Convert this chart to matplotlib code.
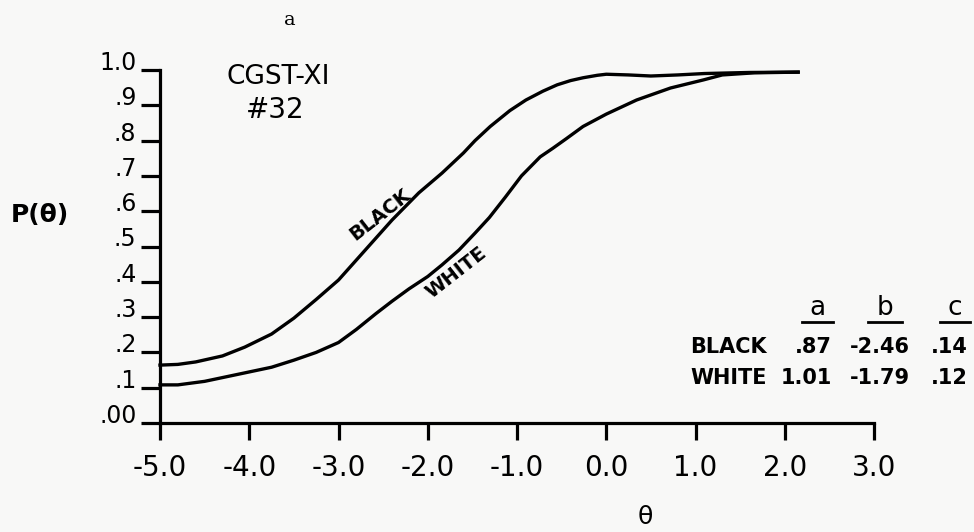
import numpy as np
import matplotlib.pyplot as plt
from matplotlib.lines import Line2D

# item characteristic curves
theta_black = [-5.0, -4.8, -4.6, -4.3, -4.05, -3.75, -3.5, -3.25, -3.0, -2.7,
               -2.4, -2.1, -1.84, -1.6, -1.47, -1.3, -1.08, -0.9, -0.71, -0.55,
               -0.4, -0.26, -0.1, 0.0, 0.25, 0.5, 0.8, 1.1, 1.6, 2.15]
p_black = [0.164, 0.166, 0.173, 0.19, 0.215, 0.252, 0.297, 0.35, 0.405, 0.49,
           0.575, 0.652, 0.708, 0.765, 0.800, 0.840, 0.885, 0.915, 0.940, 0.958,
           0.970, 0.978, 0.985, 0.988, 0.986, 0.983, 0.986, 0.990, 0.993, 0.994]

theta_white = [-5.0, -4.8, -4.5, -4.05, -3.75, -3.5, -3.25, -3.0, -2.8, -2.58,
               -2.4, -2.21, -2.0, -1.84, -1.65, -1.47, -1.31, -1.13, -0.95, -0.74,
               -0.6, -0.45, -0.26, 0.0, 0.34, 0.72, 1.09, 1.3, 1.66, 2.15]
p_white = [0.108, 0.108, 0.118, 0.142, 0.158, 0.178, 0.20, 0.228, 0.265, 0.31,
           0.345, 0.38, 0.415, 0.448, 0.49, 0.538, 0.582, 0.64, 0.70, 0.754,
           0.778, 0.805, 0.840, 0.875, 0.915, 0.949, 0.972, 0.986, 0.992, 0.994]

xticks = [-5, -4, -3, -2, -1, 0, 1, 2, 3]
xticklabels = ["-5.0", "-4.0", "-3.0", "-2.0", "-1.0", "0.0", "1.0", "2.0", "3.0"]
yticks = [0.0, 0.1, 0.2, 0.3, 0.4, 0.5, 0.6, 0.7, 0.8, 0.9, 1.0]
yticklabels = [".00", ".1", ".2", ".3", ".4", ".5", ".6", ".7", ".8", ".9", "1.0"]

# parameter table
groups = ["BLACK", "WHITE"]
param_a = [".87", "1.01"]
param_b = ["-2.46", "-1.79"]
param_c = [".14", ".12"]

W, H = 974, 532
bg = "#f8f8f7"
fig = plt.figure(figsize=(W / 100, H / 100), dpi=100, facecolor=bg)
ax = fig.add_axes([160 / W, 109 / H, 714 / W, 353 / H])
ax.set_facecolor(bg)

ax.plot(theta_black, p_black, color="black", lw=2.4, solid_joinstyle="round", clip_on=False)
ax.plot(theta_white, p_white, color="black", lw=2.4, solid_joinstyle="round", clip_on=False)

ax.set_xlim(-5, 3)
ax.set_ylim(0, 1)
for s in ["top", "right"]:
    ax.spines[s].set_visible(False)
for s in ["left", "bottom"]:
    ax.spines[s].set_linewidth(2.3)

ax.set_xticks(xticks)
ax.set_xticklabels(xticklabels)
ax.set_yticks(yticks)
ax.set_yticklabels(yticklabels)
ax.tick_params(axis="x", direction="out", length=12, width=2.3, pad=10, labelsize=20)
ax.tick_params(axis="y", direction="out", length=14, width=2.3, pad=3, labelsize=17)
for lbl in ax.get_yticklabels():
    lbl.set_verticalalignment("baseline")

def fx(px):
    return px / W

def fy(py):
    return 1 - py / H

fig.text(fx(290), fy(20), "a", fontsize=14, family="DejaVu Serif", ha="center", va="center")
fig.text(fx(226), fy(77), "CGST-XI", fontsize=19, ha="left", va="center")
fig.text(fx(275), fy(110), "#32", fontsize=20, ha="center", va="center")
fig.text(fx(40), fy(215), "P(θ)", fontsize=18, weight="bold", ha="center", va="center")
fig.text(fx(645), fy(517), "θ", fontsize=18, ha="center", va="center")

fig.text(fx(380), fy(215), "BLACK", fontsize=14, weight="bold", rotation=38,
         ha="center", va="center", rotation_mode="anchor")
fig.text(fx(456), fy(273), "WHITE", fontsize=14, weight="bold", rotation=38,
         ha="center", va="center", rotation_mode="anchor")

# table
for hx, h, (u0, u1) in zip([817, 885, 955], ["a", "b", "c"],
                           [(802, 833), (868, 902), (940, 970)]):
    fig.text(fx(hx), fy(315), h, fontsize=19, ha="center", va="baseline")
    fig.add_artist(Line2D([fx(u0), fx(u1)], [fy(322), fy(322)], color="black", lw=2))

for i, g in enumerate(groups):
    y = fy(347 + 31 * i)
    fig.text(fx(690), y, g, fontsize=15, weight="bold", ha="left", va="center")
    fig.text(fx(832), y, param_a[i], fontsize=15, weight="bold", ha="right", va="center")
    fig.text(fx(910), y, param_b[i], fontsize=15, weight="bold", ha="right", va="center")
    fig.text(fx(968), y, param_c[i], fontsize=15, weight="bold", ha="right", va="center")

fig.savefig("out.png", dpi=100, facecolor=bg)
